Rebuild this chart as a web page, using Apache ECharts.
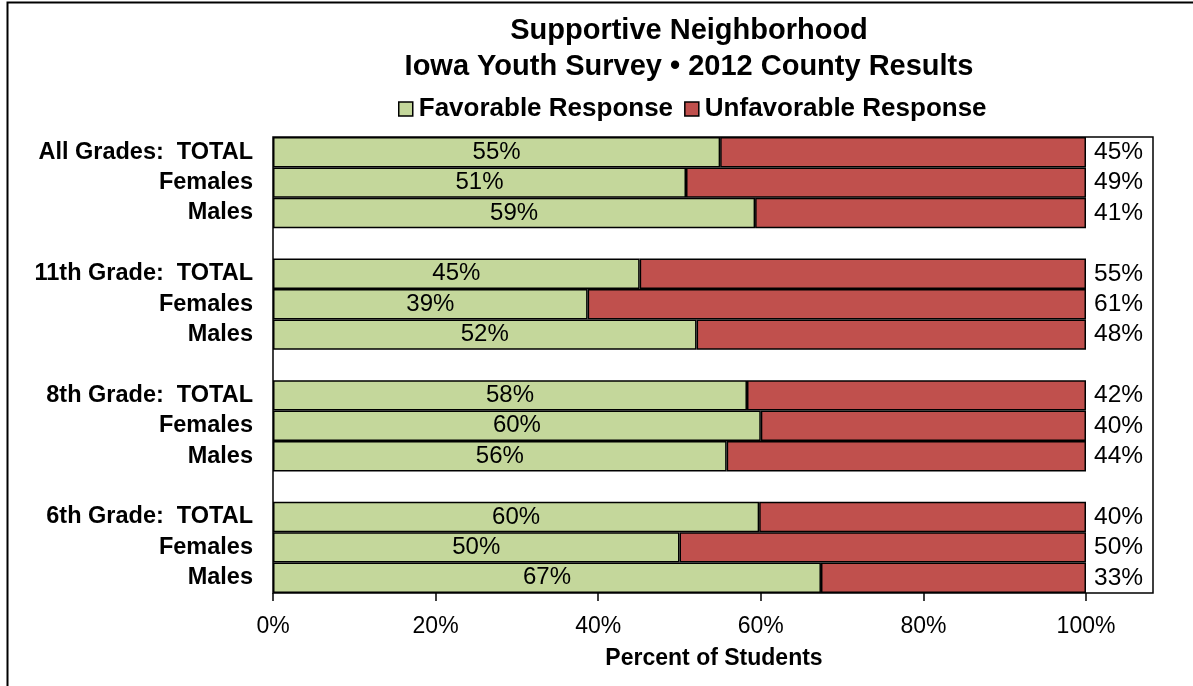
<!DOCTYPE html>
<html>
<head>
<meta charset="utf-8">
<script src="https://cdn.jsdelivr.net/npm/echarts@6/dist/echarts.min.js"></script>
<style>html,body{margin:0;padding:0;background:#fff;}#c{width:1193px;height:686px;}</style>
</head>
<body>
<div id="c"></div>
<script>
var categories = ['All Grades:  TOTAL','Females','Males','',
                  '11th Grade:  TOTAL','Females','Males','',
                  '8th Grade:  TOTAL','Females','Males','',
                  '6th Grade:  TOTAL','Females','Males'];
var favorable = [55.0, 50.8, 59.3, null, 45.1, 38.7, 52.1, null, 58.3, 60.0, 55.8, null, 59.8, 50.0, 67.4];
var unfavorable = [45.0, 49.2, 40.7, null, 54.9, 61.3, 47.9, null, 41.7, 40.0, 44.2, null, 40.2, 50.0, 32.6];
var xTicks = [0, 20, 40, 60, 80, 100];
var titleLines = ['Supportive Neighborhood', 'Iowa Youth Survey \u2022 2012 County Results'];
var seriesNames = ['Favorable Response', 'Unfavorable Response'];
var xAxisTitle = 'Percent of Students';

var FONT = '"Liberation Sans", Arial, sans-serif';
var chart = echarts.init(document.getElementById('c'), null, {renderer: 'canvas'});
function pct(p){ return p.value == null ? '' : Math.round(p.value) + '%'; }
var option = {
  animation: false,
  textStyle: {fontFamily: FONT},
  grid: {left: 273, right: 107, top: 137, bottom: 93, containLabel: false},
  legend: {
    data: seriesNames,
    left: 393, top: 91,
    itemWidth: 14, itemHeight: 14, itemGap: 11,
    icon: 'rect',
    itemStyle: {borderColor: '#000', borderWidth: 1.5},
    textStyle: {fontFamily: FONT, fontSize: 26, fontWeight: 'bold', color: '#000', padding: [0,0,0,1]}
  },
  xAxis: {
    type: 'value', min: xTicks[0], max: xTicks[xTicks.length-1], interval: 20,
    axisLine: {show: false},
    axisTick: {show: true, length: 8, lineStyle: {color: '#000', width: 1.5}},
    splitLine: {show: false},
    axisLabel: {formatter: '{value}%', fontFamily: FONT, fontSize: 23, color: '#000', margin: 22}
  },
  yAxis: {
    type: 'category', data: categories, inverse: true,
    axisLine: {show: false}, axisTick: {show: false},
    axisLabel: {interval: 0, fontFamily: FONT, fontSize: 23.5, fontWeight: 'bold', color: '#000', margin: 20}
  },
  series: [
    {
      name: seriesNames[0], type: 'bar', stack: 's', data: favorable,
      barCategoryGap: '0%',
      itemStyle: {color: '#C4D79B', borderColor: '#000', borderWidth: 1.5},
      label: {show: true, position: 'inside', fontFamily: FONT, fontSize: 24, color: '#000', formatter: pct}
    },
    {
      name: seriesNames[1], type: 'bar', stack: 's', data: unfavorable,
      barCategoryGap: '0%',
      itemStyle: {color: '#C0504D', borderColor: '#000', borderWidth: 1.5},
      label: {show: true, position: 'right', distance: 8, fontFamily: FONT, fontSize: 24.5, color: '#000', formatter: pct}
    }
  ],
  graphic: [
    {type: 'rect', z: -1, shape: {x: 273, y: 137, width: 880, height: 456}, style: {fill: 'none', stroke: '#000', lineWidth: 1.5}},
    {type: 'polyline', shape: {points: [[7.5, 686], [7.5, 2.5], [1193, 2.5]]}, style: {fill: 'none', stroke: '#000', lineWidth: 2}},
    {type: 'text', x: 689, y: 31, style: {text: titleLines[0], fontFamily: FONT, fontSize: 29, fontWeight: 'bold', fill: '#000', textAlign: 'center', textVerticalAlign: 'middle'}},
    {type: 'text', x: 689, y: 67, style: {text: titleLines[1], fontFamily: FONT, fontSize: 29, fontWeight: 'bold', fill: '#000', textAlign: 'center', textVerticalAlign: 'middle'}},
    {type: 'text', x: 714, y: 659, style: {text: xAxisTitle, fontFamily: FONT, fontSize: 23, fontWeight: 'bold', fill: '#000', textAlign: 'center', textVerticalAlign: 'middle'}}
  ]
};
chart.setOption(option);
</script>
</body>
</html>
